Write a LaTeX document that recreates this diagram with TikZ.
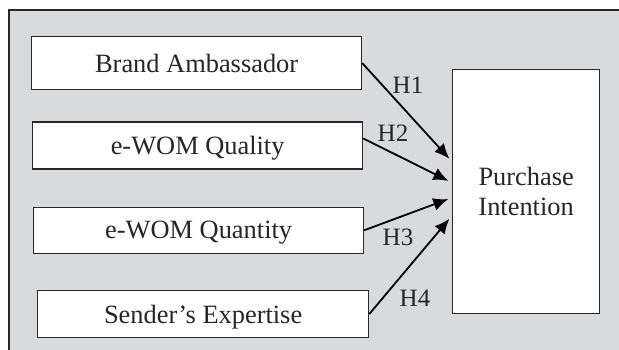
\documentclass[tikz,border=0pt]{standalone}
\usepackage{fontspec}
\setmainfont{Liberation Serif}
\usetikzlibrary{positioning}
\usetikzlibrary{arrows.meta}

\definecolor{panelgray}{RGB}{217,218,220}
\definecolor{linegray}{RGB}{40,40,40}

\begin{document}
\begin{tikzpicture}[x=1pt,y=-1pt,
    basic/.style={draw=linegray,line width=1.3pt,fill=white,text=black!85,
        font=\fontsize{26.4}{30}\selectfont,text depth=0pt,inner sep=0pt},
    factor/.style={basic,rectangle,minimum width=330pt,minimum height=47pt},
    outcome/.style={basic,rectangle,minimum width=147pt,minimum height=244pt,align=center},
    path/.style={draw=black,line width=1.8pt,-{Latex[length=15pt,width=13pt]},shorten >=4pt},
    hyp/.style={font=\fontsize{25}{28}\selectfont,text=black!85,inner sep=0pt},
]
        \clip (0,0) rectangle (619,349);
        \path[fill=panelgray,draw=linegray,line width=1.6pt] (9,10) rectangle (640,370);
        \node[factor,minimum height=53pt,anchor=north west] (ba) at (31,36) {Brand Ambassador};
        \node[factor,below=31pt of ba.south west,anchor=north west,xshift=1pt] (wq) {e-WOM Quality};
        \node[factor,below=37pt of wq.south west,anchor=north west,xshift=1pt,minimum height=46pt] (wn) {e-WOM Quantity};
        \node[factor,below=36pt of wn.south west,anchor=north west,xshift=4pt,minimum width=331pt] (se) {Sender's Expertise};
        \node[outcome,anchor=north west] (pi) at (452,69) {Purchase\\Intention};
        % hypotheses
            \path[path] (ba.east) -- ([yshift=30pt]pi.west);
            \path[path] ([yshift=7pt]wq.east) -- ([yshift=9pt]pi.west);
            \path[path] (wn.east) -- ([yshift=-6pt]pi.west);
            \path[path] (se.east) -- ([yshift=-24pt]pi.west);
        \node[hyp] (h1) at (408,85) {H1};
        \node[hyp] (h2) at (393,133) {H2};
        \node[hyp] (h3) at (398,237) {H3};
        \node[hyp] (h4) at (415,298) {H4};
    \end{tikzpicture}
\end{document}
